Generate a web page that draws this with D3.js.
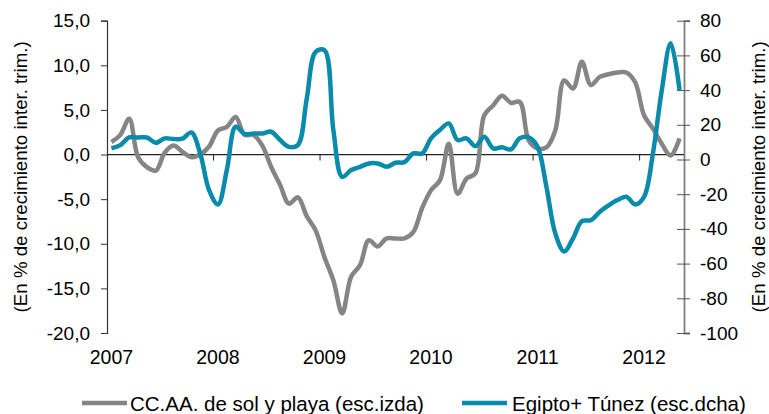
<!DOCTYPE html>
<html>
<head>
<meta charset="utf-8">
<script src="https://cdn.jsdelivr.net/npm/d3@7"></script>
<style>
  body { margin: 0; background: #fff; }
  svg { display: block; font-family: "Liberation Sans", Arial, sans-serif; }
</style>
</head>
<body>
<script>
// monthly, Jan 2007 - May 2012
var years = ["2007", "2008", "2009", "2010", "2011", "2012"];

var solPlaya = [
  1.4, 2.2, 4.0, -0.3, -1.4, -1.8, 0.2, 1.0, 0.3, -0.3, 0.0, 0.9,
  2.7, 3.1, 4.2, 2.2, 2.2, 1.0, -1.4, -3.4, -5.5, -4.8, -6.9, -8.5,
  -11.5, -14.1, -17.8, -13.7, -12.4, -9.6, -10.3, -9.4, -9.4, -9.4, -8.7, -6.0,
  -4.0, -2.9, 1.2, -4.4, -2.7, -2.1, 4.4, 5.5, 6.6, 5.8, 5.9, 1.6,
  0.7, 0.8, 2.7, 8.3, 7.4, 10.4, 7.8, 8.7, 9.0, 9.2, 9.2, 8.1,
  4.4, 2.9, 1.2, -0.1, 1.8
];

var egiptoTunez = [
  6.4, 8.3, 12.7, 12.7, 12.7, 9.6, 12.2, 11.8, 12.0, 15.6, 3.5, -17.7,
  -25.9, -6.1, 18.9, 14.7, 15.0, 15.0, 16.0, 11.2, 7.3, 8.3, 35.0, 62.0,
  63.0, 17.0, -10.0, -6.1, -4.2, -2.3, -2.3, -4.2, -1.9, -1.5, 3.5, 3.5,
  12.2, 17.0, 20.8, 11.2, 12.2, 7.7, 13.1, 6.4, 7.0, 5.8, 12.2, 12.7,
  7.3, -15.7, -42.6, -53.0, -45.5, -35.5, -35.0, -30.2, -26.5, -23.4, -21.5, -25.9,
  -21.5, 3.5, 40.0, 67.0, 40.0
];

var leftTicks = [15, 10, 5, 0, -5, -10, -15, -20];
var rightTicks = [80, 60, 40, 20, 0, -20, -40, -60, -80, -100];

var legendNames = ["CC.AA. de sol y playa (esc.izda)", "Egipto+ Túnez (esc.dcha)"];
var axisTitle = "(En % de crecimiento inter. trim.)";

var width = 769,
  height = 414,
  plotLeft = 107,
  plotRight = 684,
  plotTop = 20.7,
  plotBottom = 333;

var grey = "#858585",
  blue = "#0a8bab";

var locale = d3.formatLocale({
  decimal: ",",
  thousands: ".",
  grouping: [3],
  currency: ["", " €"],
  minus: "-"
});
var fmtLeft = locale.format(".1f");
var fmtRight = locale.format("d");

var x = d3.scaleLinear().domain([0, solPlaya.length]).range([plotLeft, plotRight]);
var yL = d3.scaleLinear().domain([-20, 15]).range([plotBottom, plotTop]);
var yR = d3.scaleLinear().domain([-100, 80]).range([plotBottom, plotTop]);

var svg = d3
  .select("body")
  .append("svg")
  .attr("width", width)
  .attr("height", height);

// left axis
var axL = svg
  .append("g")
  .attr("transform", `translate(${plotLeft},0)`)
  .call(d3.axisLeft(yL).tickValues(leftTicks).tickFormat(fmtLeft).tickSize(6).tickPadding(11));
axL.select(".domain").attr("stroke", "#333").attr("stroke-width", 1.2);
axL.selectAll(".tick line").attr("stroke", "#333");
axL.selectAll("text").attr("font-size", 19).attr("fill", "#000");

// right axis, ticks cross the line
var axR = svg
  .append("g")
  .attr("transform", `translate(${plotRight},0)`)
  .call(d3.axisRight(yR).tickValues(rightTicks).tickFormat(fmtRight).tickSize(6).tickPadding(10));
axR.select(".domain").attr("stroke", "#808080").attr("stroke-width", 1.8);
axR.selectAll(".tick line").attr("x1", -7).attr("x2", 6).attr("stroke", "#555");
axR.selectAll("text").attr("font-size", 19).attr("fill", "#000");

// zero line with year ticks
var zeroY = yL(0);
svg
  .append("line")
  .attr("x1", plotLeft)
  .attr("x2", plotRight)
  .attr("y1", zeroY)
  .attr("y2", zeroY)
  .attr("stroke", "#222")
  .attr("stroke-width", 1.2);

svg
  .selectAll("line.ytick")
  .data(years.slice(1))
  .enter()
  .append("line")
  .attr("class", "ytick")
  .attr("x1", (d, i) => x((i + 1) * 12))
  .attr("x2", (d, i) => x((i + 1) * 12))
  .attr("y1", zeroY)
  .attr("y2", zeroY + 6)
  .attr("stroke", "#222");

svg
  .selectAll("text.year")
  .data(years)
  .enter()
  .append("text")
  .attr("class", "year")
  .attr("x", (d, i) => x(i * 12 + 0.5))
  .attr("y", 364)
  .attr("text-anchor", "middle")
  .attr("font-size", 19.5)
  .text(d => d);

// axis titles
svg
  .append("text")
  .attr("transform", `translate(27,${(plotTop + plotBottom) / 2}) rotate(-90)`)
  .attr("text-anchor", "middle")
  .attr("font-size", 18.7)
  .text(axisTitle);

svg
  .append("text")
  .attr("transform", `translate(765,${(plotTop + plotBottom) / 2}) rotate(-90)`)
  .attr("text-anchor", "middle")
  .attr("font-size", 18.7)
  .text(axisTitle);

// series
var lineL = d3
  .line()
  .x((d, i) => x(i + 0.5))
  .y(d => yL(d))
  .curve(d3.curveCatmullRom.alpha(0.5));

var lineR = d3
  .line()
  .x((d, i) => x(i + 0.5))
  .y(d => yR(d))
  .curve(d3.curveCatmullRom.alpha(0.5));

svg
  .append("path")
  .datum(solPlaya)
  .attr("fill", "none")
  .attr("stroke", grey)
  .attr("stroke-width", 4.5)
  .attr("stroke-linejoin", "round")
  .attr("d", lineL);

svg
  .append("path")
  .datum(egiptoTunez)
  .attr("fill", "none")
  .attr("stroke", blue)
  .attr("stroke-width", 4.5)
  .attr("stroke-linejoin", "round")
  .attr("d", lineR);

// legend
var legend = svg
  .selectAll("g.legend")
  .data(legendNames)
  .enter()
  .append("g")
  .attr("class", "legend")
  .attr("transform", (d, i) => `translate(${i === 0 ? 82 : 462},403)`);

legend
  .append("line")
  .attr("x1", 0)
  .attr("x2", 45)
  .attr("stroke", (d, i) => (i === 0 ? grey : blue))
  .attr("stroke-width", 4.5);

legend
  .append("text")
  .attr("x", (d, i) => (i === 0 ? 48 : 50))
  .attr("y", 7.5)
  .attr("font-size", 20.5)
  .text(d => d);
</script>
</body>
</html>
